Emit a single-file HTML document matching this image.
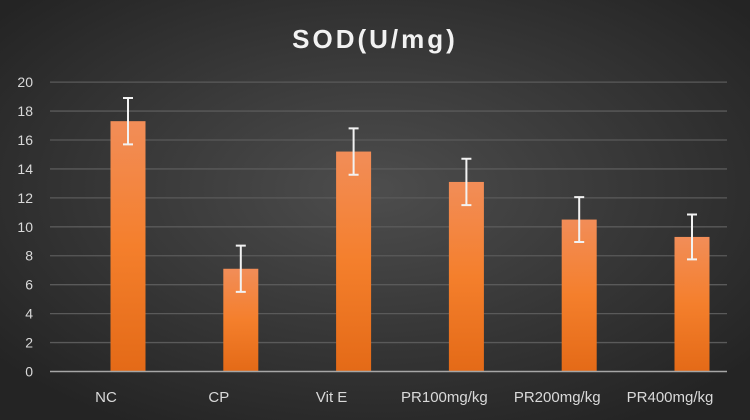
<!DOCTYPE html>
<html><head><meta charset="utf-8"><style>
body{margin:0;width:750px;height:420px;overflow:hidden;background:#2b2b2b}
svg{display:block;font-family:"Liberation Sans",sans-serif}
</style></head><body>
<svg id="c" width="750" height="420">
<defs>
<radialGradient id="bg" cx="50%" cy="45%" r="65%">
<stop offset="0" stop-color="#4d4d4d"/><stop offset="1" stop-color="#242424"/></radialGradient>
<linearGradient id="bar" x1="0" y1="0" x2="0" y2="1">
<stop offset="0" stop-color="#f28d58"/><stop offset="0.5" stop-color="#f47f2c"/><stop offset="1" stop-color="#e46a17"/></linearGradient>
</defs>
<rect width="750" height="420" fill="url(#bg)"/>
<text x="375" y="48" text-anchor="middle" fill="#f2f2f2" font-size="26" font-weight="bold" letter-spacing="3">SOD(U/mg)</text>
<g id="plot"></g>
</svg>
<script>
const categories=["NC","CP","Vit E","PR100mg/kg","PR200mg/kg","PR400mg/kg"];
const values=[17.3,7.1,15.2,13.1,10.5,9.3];
const errors=[1.6,1.6,1.6,1.6,1.55,1.55];
const yTicks=[0,2,4,6,8,10,12,14,16,18,20];
const NS="http://www.w3.org/2000/svg";
const g=document.getElementById('plot');
const y=v=>371.5-v*14.47;
const x=i=>128+i*112.8;
function mk(t,a){const e=document.createElementNS(NS,t);for(const k in a)e.setAttribute(k,a[k]);g.appendChild(e);return e;}
yTicks.forEach(t=>{
 if(t>0){const l=mk('line',{x1:50,x2:727,y1:y(t),y2:y(t),stroke:'#5a5a5a','stroke-width':1.3});
 
 }
 const tx=mk('text',{x:33,y:y(t)+5,'text-anchor':'end',fill:'#d9d9d9','font-size':14});
 tx.textContent=t;
 
 
});
categories.forEach((c,i)=>{
 const v=values[i],cx=x(i);
 const b=mk('rect',{x:cx-17.5,y:y(v),width:35,height:y(0)-y(v),fill:'url(#bar)'});
 
 
 const e=errors[i];
 const eg=mk('path',{d:`M${cx},${y(v+e)}V${y(v-e)}M${cx-5},${y(v+e)}H${cx+5}M${cx-5},${y(v-e)}H${cx+5}`,stroke:'#f2f2f2','stroke-width':2,fill:'none'});
 
 
 const t=mk('text',{x:cx-22,y:402,'text-anchor':'middle',fill:'#d9d9d9','font-size':15});
 t.textContent=c;
 
 
});
const ax=mk('line',{x1:50,x2:727,y1:y(0),y2:y(0),stroke:'#a6a6a6','stroke-width':1.5});


</script>
</body></html>
